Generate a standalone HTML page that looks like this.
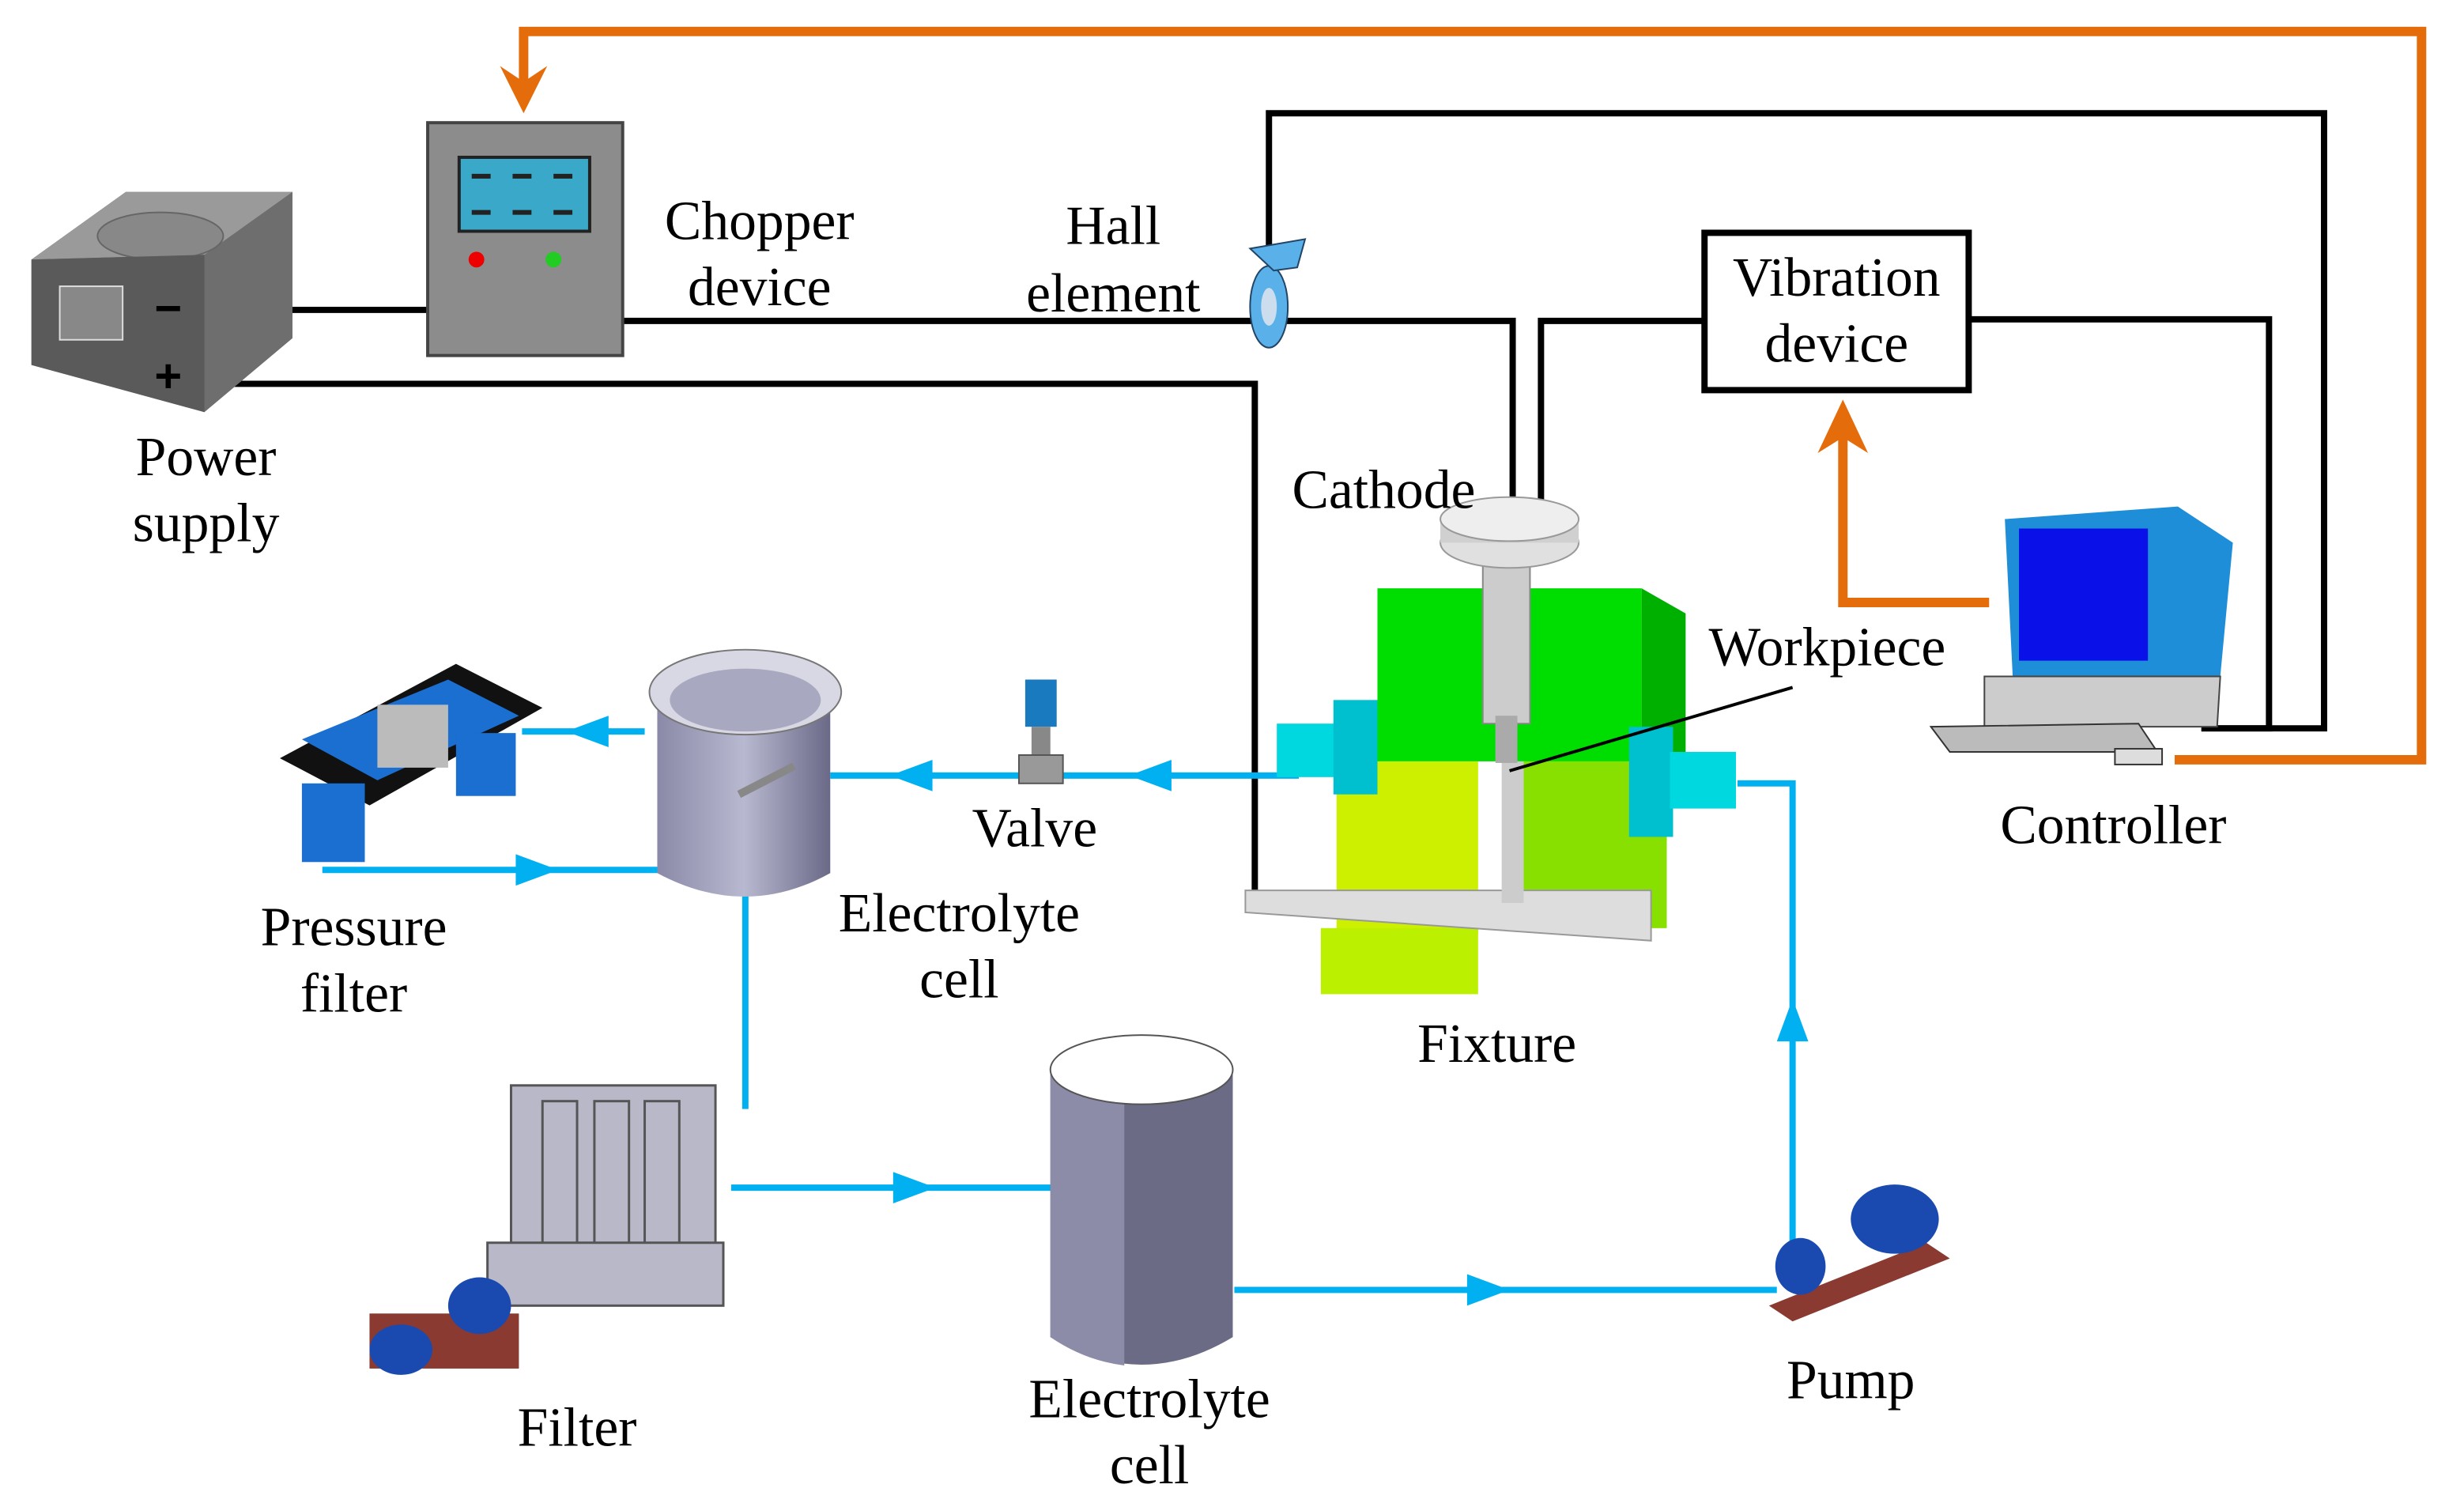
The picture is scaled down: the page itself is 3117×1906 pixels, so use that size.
<!DOCTYPE html>
<html><head><meta charset="utf-8"><style>
html,body{margin:0;padding:0;background:#fff;}
svg{display:block;}
text{font-family:"Liberation Serif",serif;font-size:35px;fill:#000;text-anchor:middle;}
</style></head><body>
<svg width="3117" height="1906" viewBox="0 0 1567 958" preserveAspectRatio="none" xmlns="http://www.w3.org/2000/svg">
<defs>
<linearGradient id="tank" x1="0" x2="1"><stop offset="0" stop-color="#8a8aa8"/><stop offset="0.5" stop-color="#b8b8d0"/><stop offset="1" stop-color="#6a6a88"/></linearGradient>
</defs>
<g stroke="#e46c0a" stroke-width="6" fill="none">
<polyline points="1383,483 1540,483 1540,20 333,20 333,60"/>
<polyline points="1265,383 1172,383 1172,270"/>
</g>
<polygon points="318,42 333,72 348,42 333,52" fill="#e46c0a"/>
<polygon points="1156,288 1172,254 1188,288 1172,278" fill="#e46c0a"/>
<g stroke="#000" stroke-width="4" fill="none">
<line x1="133" y1="197" x2="272" y2="197"/>
<polyline points="396,204 962,204 962,325"/>
<polyline points="133,244 798,244 798,572"/>
<polyline points="807,160 807,72 1478,72 1478,463 1400,463"/>
<polyline points="1084,204 980,204 980,325"/>
<polyline points="1252,203 1443,203 1443,463 1400,463"/>
</g>
<rect x="1084" y="148" width="168" height="100" fill="#fff" stroke="#000" stroke-width="4"/>
<circle cx="133" cy="197" r="6"/><circle cx="133" cy="244" r="6"/>
<polygon points="20,165 80,122 186,122 186,215 130,262 20,232" fill="#6e6e6e"/>
<polygon points="20,165 80,122 186,122 130,162" fill="#9a9a9a"/>
<ellipse cx="102" cy="150" rx="40" ry="15" fill="#888" stroke="#666"/>
<polygon points="20,165 130,162 130,262 20,232" fill="#5a5a5a"/>
<rect x="38" y="182" width="40" height="34" fill="#888" stroke="#ddd"/>
<text x="107" y="206" style="font-size:30px;font-family:'Liberation Sans',sans-serif;font-weight:bold">−</text>
<text x="107" y="249" style="font-size:30px;font-family:'Liberation Sans',sans-serif;font-weight:bold">+</text>
<rect x="272" y="78" width="124" height="148" fill="#8c8c8c" stroke="#444" stroke-width="2"/>
<rect x="292" y="100" width="83" height="47" fill="#3aa8c8" stroke="#222" stroke-width="2"/>
<g stroke="#222" stroke-width="3"><line x1="300" y1="112" x2="312" y2="112"/><line x1="326" y1="112" x2="338" y2="112"/><line x1="352" y1="112" x2="364" y2="112"/><line x1="300" y1="135" x2="312" y2="135"/><line x1="326" y1="135" x2="338" y2="135"/><line x1="352" y1="135" x2="364" y2="135"/></g>
<circle cx="303" cy="165" r="5" fill="#e00"/><circle cx="352" cy="165" r="5" fill="#2c2"/>
<ellipse cx="807" cy="195" rx="12" ry="26" fill="#5ab0e8" stroke="#246"/>
<ellipse cx="807" cy="195" rx="5" ry="12" fill="#cde"/>
<polygon points="795,158 830,152 825,170 810,172" fill="#5ab0e8" stroke="#246"/>
<g stroke="#00b0f0" stroke-width="4" fill="none">
<line x1="826" y1="493" x2="528" y2="493"/>
<line x1="410" y1="465" x2="332" y2="465"/>
<line x1="205" y1="553" x2="432" y2="553"/>
<polyline points="474,510 474,705"/>
<line x1="465" y1="755" x2="670" y2="755"/>
<line x1="785" y1="820" x2="1130" y2="820"/>
<polyline points="1140,810 1140,498 1105,498"/>
</g>
<g fill="#00b0f0">
<polygon points="718,493 745,483 745,503"/><polygon points="566,493 593,483 593,503"/>
<polygon points="360,465 387,455 387,475"/><polygon points="355,553 328,543 328,563"/>
<polygon points="595,755 568,745 568,765"/><polygon points="960,820 933,810 933,830"/>
<polygon points="1140,635 1130,662 1150,662"/>
</g>
<rect x="652" y="432" width="20" height="30" fill="#1a7ac0"/>
<rect x="656" y="462" width="12" height="18" fill="#888"/>
<rect x="648" y="480" width="28" height="18" fill="#999" stroke="#555"/>
<polygon points="178,482 290,422 345,450 235,512" fill="#111"/>
<polygon points="192,470 285,432 330,455 240,496" fill="#1a6fd0"/>
<rect x="240" y="448" width="45" height="40" fill="#bbb"/>
<rect x="192" y="498" width="40" height="50" fill="#1a6fd0"/>
<rect x="290" y="466" width="38" height="40" fill="#1a6fd0"/>
<path d="M418,440 L418,555 Q474,585 528,555 L528,440 Z" fill="url(#tank)"/>
<ellipse cx="474" cy="440" rx="61" ry="27" fill="#d8d8e4" stroke="#777"/>
<ellipse cx="474" cy="445" rx="48" ry="20" fill="#a8a8c0"/>
<line x1="470" y1="505" x2="505" y2="487" stroke="#888" stroke-width="5"/>
<rect x="876" y="374" width="168" height="110" fill="#00dd00"/>
<polygon points="1044,374 1072,390 1072,500 1044,484" fill="#00b000"/>
<rect x="850" y="484" width="90" height="110" fill="#ccf000"/>
<polygon points="960,484 1060,484 1060,590 960,590" fill="#88e000"/>
<rect x="840" y="590" width="100" height="42" fill="#bbf000"/>
<polygon points="792,566 1050,566 1050,598 792,580" fill="#ddd" stroke="#999"/>
<rect x="955" y="484" width="14" height="90" fill="#ccc"/>
<rect x="943" y="350" width="30" height="110" fill="#ccc" stroke="#888"/>
<rect x="951" y="455" width="14" height="30" fill="#aaa"/>
<ellipse cx="960" cy="345" rx="44" ry="16" fill="#e0e0e0" stroke="#999"/>
<rect x="916" y="330" width="88" height="15" fill="#d0d0d0"/>
<ellipse cx="960" cy="330" rx="44" ry="14" fill="#eee" stroke="#999"/>
<rect x="812" y="460" width="40" height="34" fill="#00d8e0"/>
<rect x="848" y="445" width="28" height="60" fill="#00c0d0"/>
<rect x="1036" y="462" width="28" height="70" fill="#00c0d0"/>
<rect x="1062" y="478" width="42" height="36" fill="#00d8e0"/>
<line x1="1140" y1="437" x2="960" y2="490" stroke="#000" stroke-width="2"/>
<polygon points="1275,330 1385,322 1420,345 1412,430 1280,430" fill="#1e8ed8"/>
<rect x="1284" y="336" width="82" height="84" fill="#0a10e8"/>
<polygon points="1262,430 1412,430 1410,462 1262,462" fill="#ccc" stroke="#444"/>
<polygon points="1228,462 1360,460 1372,478 1240,478" fill="#bbb" stroke="#333"/>
<rect x="1345" y="476" width="30" height="10" fill="#ddd" stroke="#333"/>
<g fill="#b8b8c8" stroke="#555" stroke-width="1.5">
<rect x="325" y="690" width="130" height="130"/>
<rect x="345" y="700" width="22" height="110"/><rect x="378" y="700" width="22" height="110"/><rect x="410" y="700" width="22" height="110"/>
<rect x="310" y="790" width="150" height="40"/>
</g>
<rect x="235" y="835" width="95" height="35" fill="#8a3a30"/>
<ellipse cx="255" cy="858" rx="20" ry="16" fill="#1a4ab0"/>
<ellipse cx="305" cy="830" rx="20" ry="18" fill="#1a4ab0"/>
<path d="M668,680 L668,850 Q726,885 784,850 L784,680 Z" fill="#6b6b85"/>
<path d="M668,680 L668,850 Q690,865 715,868 L715,690 Z" fill="#8c8ca8"/>
<ellipse cx="726" cy="680" rx="58" ry="22" fill="#fff" stroke="#555"/>
<polygon points="1125,830 1225,790 1240,800 1140,840" fill="#8a3a30"/>
<ellipse cx="1205" cy="775" rx="28" ry="22" fill="#1a4ab0"/>
<ellipse cx="1145" cy="805" rx="16" ry="18" fill="#1a4ab0"/>
<text x="483" y="152">Chopper</text><text x="483" y="194">device</text>
<text x="708" y="155">Hall</text><text x="708" y="198">element</text>
<text x="1168" y="188">Vibration</text><text x="1168" y="230">device</text>
<text x="131" y="302">Power</text><text x="131" y="344">supply</text>
<text x="880" y="323">Cathode</text>
<text x="1162" y="423">Workpiece</text>
<text x="658" y="538">Valve</text>
<text x="610" y="592">Electrolyte</text><text x="610" y="634">cell</text>
<text x="225" y="601">Pressure</text><text x="225" y="643">filter</text>
<text x="952" y="675">Fixture</text>
<text x="1344" y="536">Controller</text>
<text x="367" y="919">Filter</text>
<text x="731" y="901">Electrolyte</text><text x="731" y="943">cell</text>
<text x="1177" y="889">Pump</text>
</svg>
</body></html>
